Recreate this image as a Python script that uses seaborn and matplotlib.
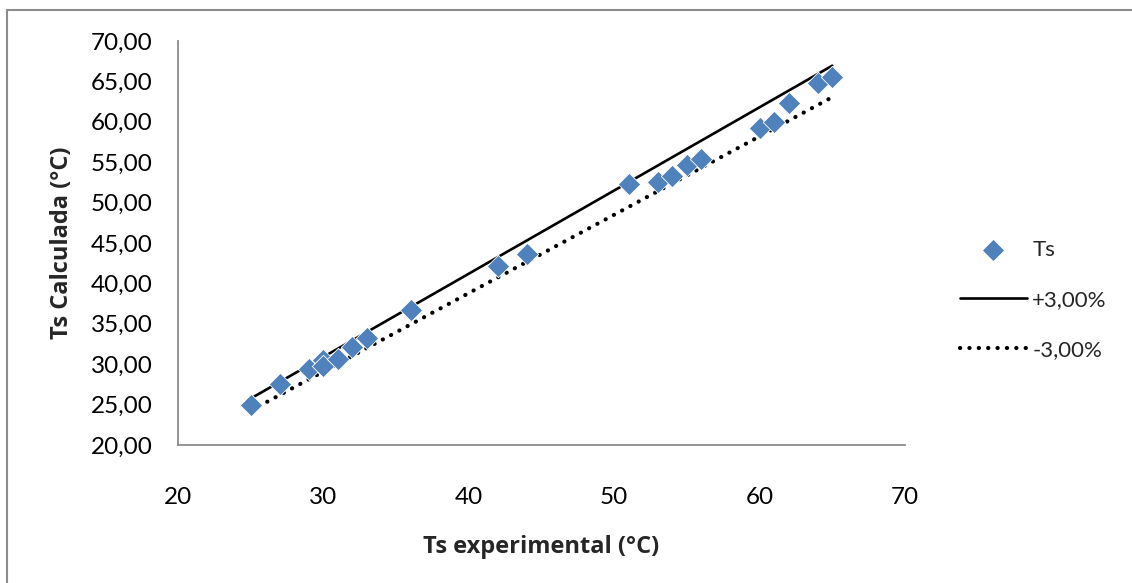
import matplotlib
matplotlib.use("Agg")
import matplotlib.pyplot as plt
from matplotlib.lines import Line2D
import seaborn as sns
import pandas as pd
from matplotlib.ticker import FuncFormatter

ts_experimental = [25, 27, 29, 30, 30, 31, 32, 33, 36, 42, 44, 51, 53, 54, 55, 56, 60, 61, 62, 64, 65]
ts_calculada = [24.95, 27.55, 29.4, 30.5, 29.8, 30.6, 32.1, 33.2, 36.7, 42.15, 43.6, 52.3, 52.55,
                53.3, 54.6, 55.4, 59.2, 60.0, 62.3, 64.8, 65.5]
line_x = [25, 65]
plus3 = [25.75, 66.95]
minus3 = [24.25, 63.05]
xticks = [20, 30, 40, 50, 60, 70]
yticks = [20, 25, 30, 35, 40, 45, 50, 55, 60, 65, 70]

sns.set_theme(style="white")
plt.rcParams['font.family'] = ['Lato', 'DejaVu Sans']

W, H = 1132, 583
fig = plt.figure(figsize=(W / 100, H / 100), dpi=100)
ax = fig.add_axes([178 / W, 1 - 445 / H, (905 - 178) / W, (445 - 41) / H])

df_pts = pd.DataFrame({"x": ts_experimental, "y": ts_calculada})
df_lines = pd.DataFrame({"x": line_x, "plus": plus3, "minus": minus3})

sns.lineplot(data=df_lines, x="x", y="plus", ax=ax, color="black", linewidth=1.9,
             label="+3,00%", zorder=2)
sns.lineplot(data=df_lines, x="x", y="minus", ax=ax, color="black", linewidth=3.0,
             linestyle=(0, (0.05, 2.2)), dash_capstyle="round", label="-3,00%", zorder=2)
sns.scatterplot(data=df_pts, x="x", y="y", ax=ax, marker="D", s=130, color="#4F81BD",
                edgecolor="white", linewidth=0.6, label="Ts", zorder=3)

ax.set_xlim(20, 70)
ax.set_ylim(20, 70)
ax.set_xticks(xticks)
ax.set_yticks(yticks)
ax.yaxis.set_major_formatter(FuncFormatter(lambda v, p: f"{v:.2f}".replace(".", ",")))
ax.tick_params(axis="both", length=0, labelsize=17.5, colors="black")
ax.tick_params(axis="x", pad=30)
ax.tick_params(axis="y", pad=18)
for s in ["top", "right"]:
    ax.spines[s].set_visible(False)
for s in ["left", "bottom"]:
    ax.spines[s].set_color("#8c8c8c")
    ax.spines[s].set_linewidth(1.3)

lab_font = dict(family=["Open Sans", "DejaVu Sans"], size=17, weight="bold")
ax.set_xlabel("Ts experimental (°C)", fontdict=lab_font, labelpad=20)
ax.set_ylabel("Ts Calculada (°C)", fontdict=lab_font, labelpad=12)

handles, labels = ax.get_legend_handles_labels()
order = [labels.index("Ts"), labels.index("+3,00%"), labels.index("-3,00%")]
leg = ax.legend([handles[i] for i in order], [labels[i] for i in order],
                loc="upper left", bbox_to_anchor=(940 / W, 1 - 220 / H),
                bbox_transform=fig.transFigure, frameon=False, fontsize=16,
                handlelength=3.0, labelspacing=1.35, handletextpad=0.25)

# figure border (left and top)
fig.add_artist(Line2D([7 / W, 7 / W], [0, 1 - 10 / H], transform=fig.transFigure,
                      color="#8c8c8c", linewidth=1.5))
fig.add_artist(Line2D([7 / W, 1], [1 - 10 / H, 1 - 10 / H], transform=fig.transFigure,
                      color="#8c8c8c", linewidth=1.5))

fig.savefig("out.png", dpi=100)
